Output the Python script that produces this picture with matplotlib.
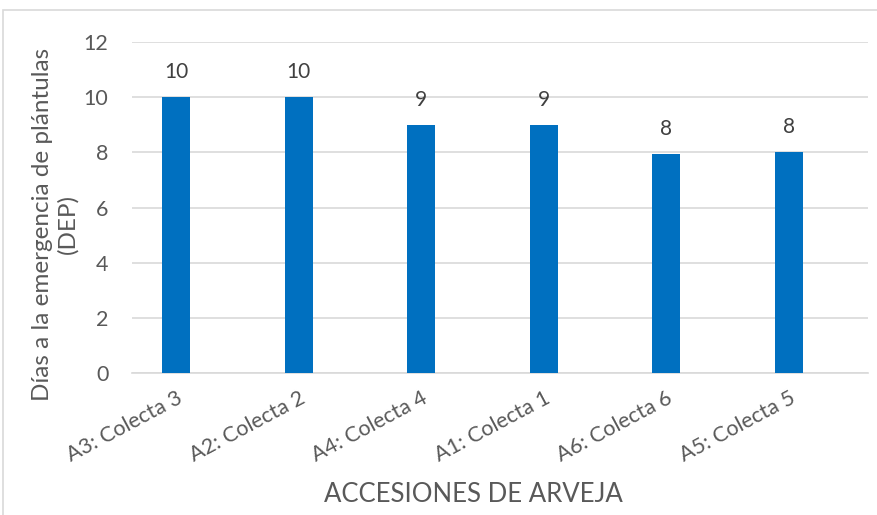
import matplotlib
matplotlib.use("Agg")
import matplotlib.pyplot as plt
from matplotlib.patches import Rectangle
import numpy as np

categories = ["A3: Colecta 3", "A2: Colecta 2", "A4: Colecta 4", "A1: Colecta 1", "A6: Colecta 6", "A5: Colecta 5"]
values = [10, 10, 9, 9, 7.95, 8]
yticks = [0, 2, 4, 6, 8, 10, 12]

plt.rcParams['font.family'] = ['Lato', 'DejaVu Sans']

W, H = 878, 515
fig = plt.figure(figsize=(W/100, H/100), dpi=100)
ax = fig.add_axes([132/W, 1-373/H, (868-132)/W, (373-42)/H])

x = np.arange(len(categories))
ax.bar(x, values, width=0.228, color="#0070C0", zorder=3)
for xi, v in zip(x, values):
    ax.text(xi, v + 0.55, f"{v:.0f}", ha="center", va="bottom", fontsize=15, color="#404040")

ax.set_xlim(-0.359, 5.644)
ax.set_ylim(0, 12)
ax.set_yticks(yticks)
ax.yaxis.grid(True, color="#D9D9D9", linewidth=1.2, zorder=0)
ax.set_axisbelow(True)
for s in ["top", "right", "left"]:
    ax.spines[s].set_visible(False)
ax.spines["bottom"].set_color("#D9D9D9")
ax.spines["bottom"].set_linewidth(1.2)
ax.tick_params(axis="both", length=0, labelsize=15.5, colors="#595959")
ax.tick_params(axis="y", pad=17)
ax.set_xticks(x)
ax.set_xticklabels(categories, rotation=28, ha="right", rotation_mode="anchor",
                   fontsize=15.5, color="#595959")
ax.tick_params(axis="x", pad=11)

fig.text(55/W, 1-224/H, "Días a la emergencia de plántulas\n(DEP)", rotation=90,
         ha="center", va="center", multialignment="center", fontsize=17.5,
         color="#595959", linespacing=1.25)
fig.text(473/W, 1-495/H, "ACCESIONES DE ARVEJA", ha="center", va="center",
         fontsize=18.5, color="#595959")

fig.patches.append(Rectangle((3/W, -0.01), 1.0, 1 - 10/H + 0.01, transform=fig.transFigure,
                             fill=False, edgecolor="#D9D9D9", linewidth=1.2))

fig.savefig("out.png", dpi=100)
